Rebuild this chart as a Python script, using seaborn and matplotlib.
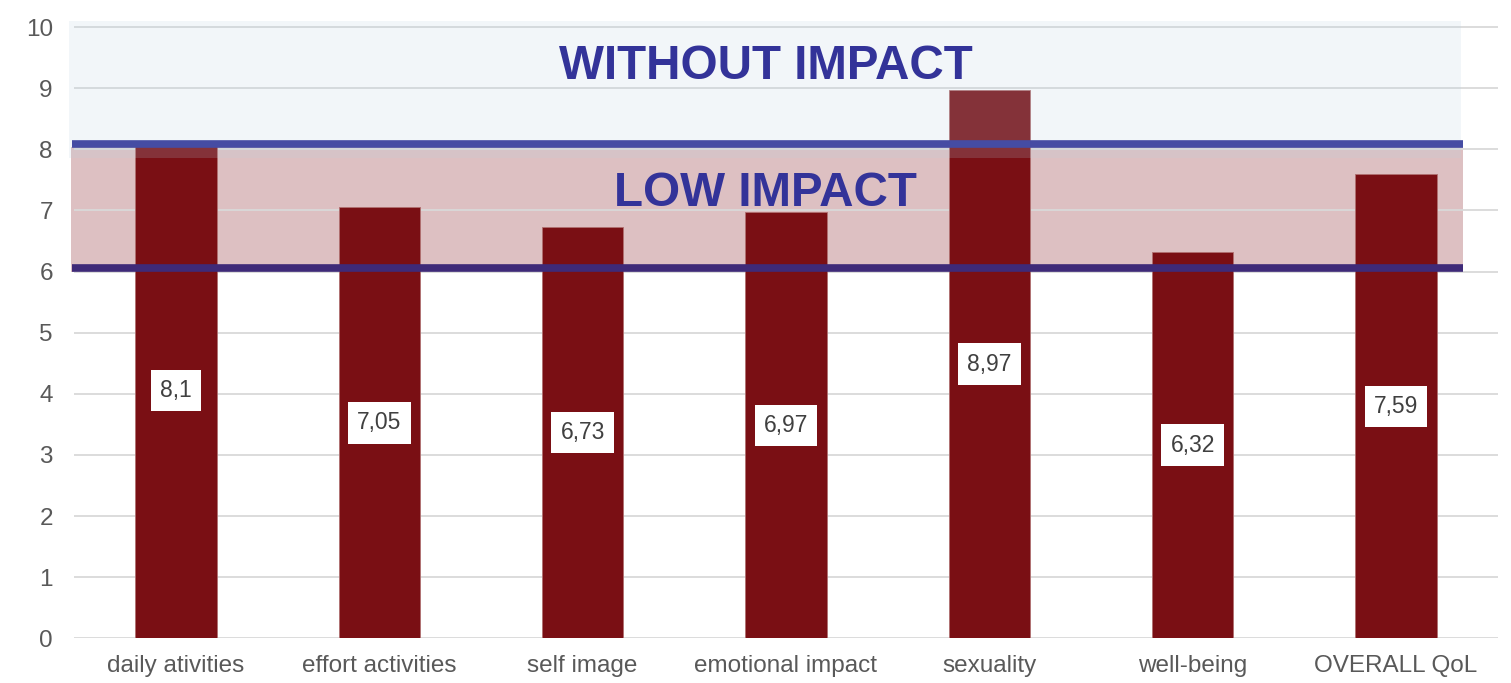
import matplotlib
matplotlib.use("Agg")
import matplotlib.pyplot as plt
import seaborn as sns
import pandas as pd

categories = ["daily ativities", "effort activities", "self image", "emotional impact",
              "sexuality", "well-being", "OVERALL QoL"]
scores = [8.1, 7.05, 6.73, 6.97, 8.97, 6.32, 7.59]
low_limit = 6.05
high_limit = 8.09

df = pd.DataFrame({"domain": categories, "score": scores})

sns.set_style("white")
plt.rcParams["font.family"] = ["Liberation Sans", "DejaVu Sans"]

fig = plt.figure(figsize=(15.11, 6.83), dpi=100)
ax = fig.add_axes([0.0492, 0.0654, 0.9419, 0.904])

# pink band sits behind the bars
pink = ax.axhspan(6.0, 8.03, xmin=-0.002, xmax=0.976, color="#ddc0c2", zorder=0.4, lw=0)
pink.set_clip_on(False)

sns.barplot(data=df, x="domain", y="score", color="#7a0f14", saturation=1,
            width=0.4, edgecolor="#b07070", linewidth=0.6, zorder=2, ax=ax)

# light blue band drawn over the bars
band = ax.axhspan(7.86, 10.1, xmin=-0.004, xmax=0.974, color="#b7d2e3", alpha=0.18,
                  zorder=3, lw=0)
band.set_clip_on(False)

ax.hlines(high_limit, -0.51, 6.33, color="#454ca3", lw=5.5, zorder=4, clip_on=False)
ax.hlines(low_limit, -0.51, 6.33, color="#3e2a78", lw=5.5, zorder=4, clip_on=False)

ax.text(2.9, 9.36, "WITHOUT IMPACT", ha="center", va="center", fontsize=34.3,
        fontweight="bold", color="#333399", zorder=5)
ax.text(2.9, 7.27, "LOW IMPACT", ha="center", va="center", fontsize=34.3,
        fontweight="bold", color="#333399", zorder=5)

for i, v in enumerate(scores):
    ax.text(i, v / 2, f"{v:g}".replace(".", ","), ha="center", va="center",
            fontsize=16.5, color="#404040", zorder=6,
            bbox=dict(boxstyle="square,pad=0.4", fc="white", ec="none"))

ax.set_xlim(-0.5, 6.5)
ax.set_ylim(0, 10.1)
ax.set_yticks(range(0, 11))
ax.yaxis.grid(True, color="#d9d9d9", lw=1.3, zorder=0.5)
ax.set_axisbelow(True)
ax.tick_params(axis="both", length=0, labelsize=17.5, colors="#595959")
ax.tick_params(axis="y", pad=15.5)
ax.tick_params(axis="x", pad=12)
ax.set_xlabel("")
ax.set_ylabel("")
sns.despine(ax=ax, left=True, bottom=True)

fig.savefig("out.png", dpi=100)
